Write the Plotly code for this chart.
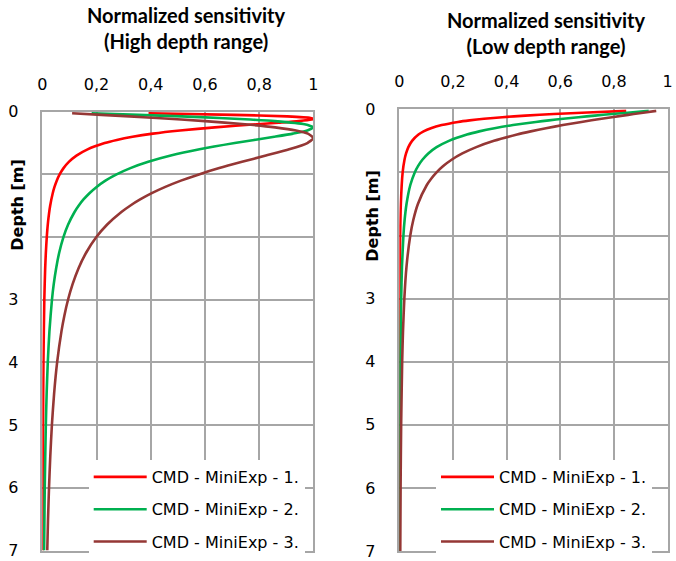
import plotly.graph_objects as go

# ---- data (normalized sensitivity vs depth [m]) ----
series_names = ["CMD - MiniExp - 1.", "CMD - MiniExp - 2.", "CMD - MiniExp - 3."]
colors = ["#FF0000", "#00B050", "#953735"]

# High depth range
red_hi_depth = [0.025, 0.05, 0.075, 0.1, 0.115, 0.125, 0.15, 0.175, 0.2, 0.25, 0.3, 0.35, 0.4, 0.45, 0.5, 0.6, 0.7, 0.8, 0.9, 1.0, 1.1, 1.2, 1.3, 1.5, 1.75, 2.0, 2.25, 2.5, 3, 4, 5, 6, 7]
red_hi = [0.392, 0.706, 0.904, 0.990, 1.000, 0.993, 0.946, 0.873, 0.792, 0.636, 0.508, 0.408, 0.333, 0.275, 0.230, 0.167, 0.126, 0.098, 0.0784, 0.064, 0.0533, 0.045, 0.0385, 0.029, 0.0214, 0.0165, 0.0131, 0.0106, 0.0074, 0.0042, 0.0027, 0.0018, 0.0014]

green_hi_depth = [0.025, 0.05, 0.075, 0.1, 0.125, 0.15, 0.2, 0.25, 0.3, 0.35, 0.4, 0.5, 0.6, 0.7, 0.8, 0.9, 1.0, 1.1, 1.2, 1.3, 1.4, 1.5, 1.6, 1.8, 2.0, 2.25, 2.5, 2.75, 3, 3.5, 4, 4.5, 5, 6, 7]
green_hi = [0.182, 0.355, 0.514, 0.653, 0.768, 0.858, 0.968, 1.000, 0.978, 0.925, 0.856, 0.710, 0.580, 0.474, 0.391, 0.325, 0.274, 0.233, 0.2005, 0.174, 0.152, 0.134, 0.119, 0.0954, 0.078, 0.0623, 0.051, 0.0422, 0.0356, 0.0263, 0.0202, 0.016, 0.013, 0.009, 0.0066]

brown_hi_depth = [0.025, 0.05, 0.075, 0.1, 0.15, 0.2, 0.25, 0.3, 0.35, 0.42, 0.5, 0.6, 0.7, 0.8, 0.9, 1.0, 1.1, 1.2, 1.3, 1.4, 1.5, 1.6, 1.8, 2.0, 2.25, 2.5, 2.75, 3, 3.25, 3.5, 4, 4.5, 5, 5.5, 6, 6.5, 7]
brown_hi = [0.110, 0.218, 0.322, 0.422, 0.601, 0.748, 0.859, 0.936, 0.980, 1.000, 0.978, 0.911, 0.825, 0.737, 0.653, 0.578, 0.5115, 0.454, 0.404, 0.361, 0.324, 0.2918, 0.2395, 0.1995, 0.1617, 0.1334, 0.1118, 0.0949, 0.0816, 0.0708, 0.0547, 0.0435, 0.0354, 0.0294, 0.0248, 0.0211, 0.0183]

# Low depth range
red_lo_depth = [0.025, 0.05, 0.075, 0.1, 0.125, 0.15, 0.175, 0.2, 0.25, 0.3, 0.35, 0.4, 0.5, 0.6, 0.7, 0.8, 1.0, 1.5, 2, 3, 4, 5, 6, 7]
red_lo = [0.846, 0.702, 0.576, 0.470, 0.384, 0.316, 0.262, 0.219, 0.158, 0.118, 0.0905, 0.0715, 0.0476, 0.0338, 0.0252, 0.0194, 0.0125, 0.0057, 0.0032, 0.0014, 0.0008, 0.0005, 0.0004, 0.0003]

green_lo_depth = [0.025, 0.05, 0.075, 0.1, 0.125, 0.15, 0.175, 0.2, 0.25, 0.3, 0.35, 0.4, 0.5, 0.6, 0.7, 0.8, 0.9, 1.0, 1.2, 1.5, 1.75, 2, 2.5, 3, 4, 5, 6, 7]
green_lo = [0.930, 0.861, 0.793, 0.729, 0.668, 0.611, 0.558, 0.509, 0.424, 0.355, 0.298, 0.252, 0.185, 0.139, 0.108, 0.086, 0.0698, 0.0576, 0.0411, 0.0269, 0.0199, 0.0154, 0.0099, 0.0070, 0.0039, 0.0025, 0.0018, 0.0013]

brown_lo_depth = [0.025, 0.05, 0.075, 0.1, 0.15, 0.2, 0.25, 0.3, 0.35, 0.4, 0.5, 0.6, 0.7, 0.8, 0.9, 1.0, 1.1, 1.2, 1.5, 1.75, 2, 2.5, 3, 3.5, 4, 5, 6, 7]
brown_lo = [0.958, 0.916, 0.874, 0.833, 0.754, 0.679, 0.610, 0.547, 0.490, 0.439, 0.353, 0.287, 0.235, 0.195, 0.1637, 0.139, 0.1188, 0.1026, 0.0694, 0.0524, 0.0409, 0.0267, 0.0188, 0.0139, 0.0107, 0.0069, 0.0048, 0.0036]

x_tickvals = [0, 0.2, 0.4, 0.6, 0.8, 1]
x_ticktext = ["0", "0,2", "0,4", "0,6", "0,8", "1"]
y_tickvals = [0, 1, 2, 3, 4, 5, 6, 7]
y_ticktext = ["0", "", "", "3", "4", "5", "6", "7"]

titles = ["<b>Normalized sensitivity<br>(High depth range)</b>",
          "<b>Normalized sensitivity<br>(Low depth range)</b>"]

W, H = 676, 561
TFONT = "Lato, 'Open Sans', sans-serif"
FONT = "'DejaVu Sans', sans-serif"
GRID = "#A6A6A6"

fig = go.Figure()

hi = [(red_hi, red_hi_depth), (green_hi, green_hi_depth), (brown_hi, brown_hi_depth)]
lo = [(red_lo, red_lo_depth), (green_lo, green_lo_depth), (brown_lo, brown_lo_depth)]

for i, (xv, yv) in enumerate(hi):
    fig.add_trace(go.Scatter(x=xv, y=yv, mode="lines", name=series_names[i],
                             line=dict(color=colors[i], width=2.6, shape="spline", smoothing=0.6),
                             xaxis="x", yaxis="y", legend="legend", legendgroup="a%d" % i))
for i, (xv, yv) in enumerate(lo):
    fig.add_trace(go.Scatter(x=xv, y=yv, mode="lines", name=series_names[i],
                             line=dict(color=colors[i], width=2.6, shape="spline", smoothing=0.6),
                             xaxis="x2", yaxis="y2", legend="legend2", legendgroup="b%d" % i))

def px_x(p):
    return p / W

def px_y(p):
    return 1 - p / H

xcommon = dict(range=[0, 1], side="top", tickvals=x_tickvals, ticktext=x_ticktext,
               showgrid=True, gridcolor=GRID, gridwidth=1.5, zeroline=False,
               showline=True, mirror=True, linecolor=GRID, linewidth=1.5,
               ticks="", ticklabelstandoff=14, automargin=False, ticklabeloverflow="allow",
               tickfont=dict(family=FONT, size=16, color="#000000"))
ycommon = dict(range=[7, 0], tickvals=y_tickvals, ticktext=y_ticktext,
               showgrid=True, gridcolor=GRID, gridwidth=1.5, zeroline=False,
               showline=True, mirror=True, linecolor=GRID, linewidth=1.5,
               ticks="", ticklabelstandoff=19, automargin=False, ticklabeloverflow="allow",
               tickfont=dict(family=FONT, size=16, color="#000000"))

legend_common = dict(xanchor="left", yanchor="top", bgcolor="white", borderwidth=0,
                     itemwidth=53, traceorder="grouped", tracegroupgap=8.5,
                     font=dict(family=FONT, size=16, color="#000000"))

fig.update_layout(
    width=W, height=H,
    margin=dict(l=0, r=0, t=0, b=0, autoexpand=False),
    paper_bgcolor="white", plot_bgcolor="white",
    xaxis=dict(domain=[px_x(42.3), px_x(313.3)], anchor="y", **xcommon),
    yaxis=dict(domain=[px_y(550.5), px_y(111.7)], anchor="x", **ycommon),
    xaxis2=dict(domain=[px_x(399.3), px_x(667.5)], anchor="y2", **xcommon),
    yaxis2=dict(domain=[px_y(551), px_y(109.3)], anchor="x2", **ycommon),
    legend=dict(x=px_x(88.7), y=px_y(460), **legend_common),
    legend2=dict(x=px_x(436), y=px_y(460), **legend_common),
    showlegend=True,
)

fig.add_annotation(text=titles[0], xref="paper", yref="paper", x=px_x(185.5), y=px_y(28),
                   xanchor="center", yanchor="middle", showarrow=False,
                   font=dict(family=TFONT, size=20, color="#000000"))
fig.add_annotation(text=titles[1], xref="paper", yref="paper", x=px_x(545.6), y=px_y(33),
                   xanchor="center", yanchor="middle", showarrow=False,
                   font=dict(family=TFONT, size=20, color="#000000"))
fig.add_annotation(text="<b>Depth [m]</b>", xref="paper", yref="paper", x=px_x(16.7), y=px_y(205),
                   xanchor="center", yanchor="middle", showarrow=False, textangle=-90,
                   font=dict(family=FONT, size=16, color="#000000"))
fig.add_annotation(text="<b>Depth [m]</b>", xref="paper", yref="paper", x=px_x(371.7), y=px_y(216),
                   xanchor="center", yanchor="middle", showarrow=False, textangle=-90,
                   font=dict(family=FONT, size=16, color="#000000"))

fig.write_html("out.html")
